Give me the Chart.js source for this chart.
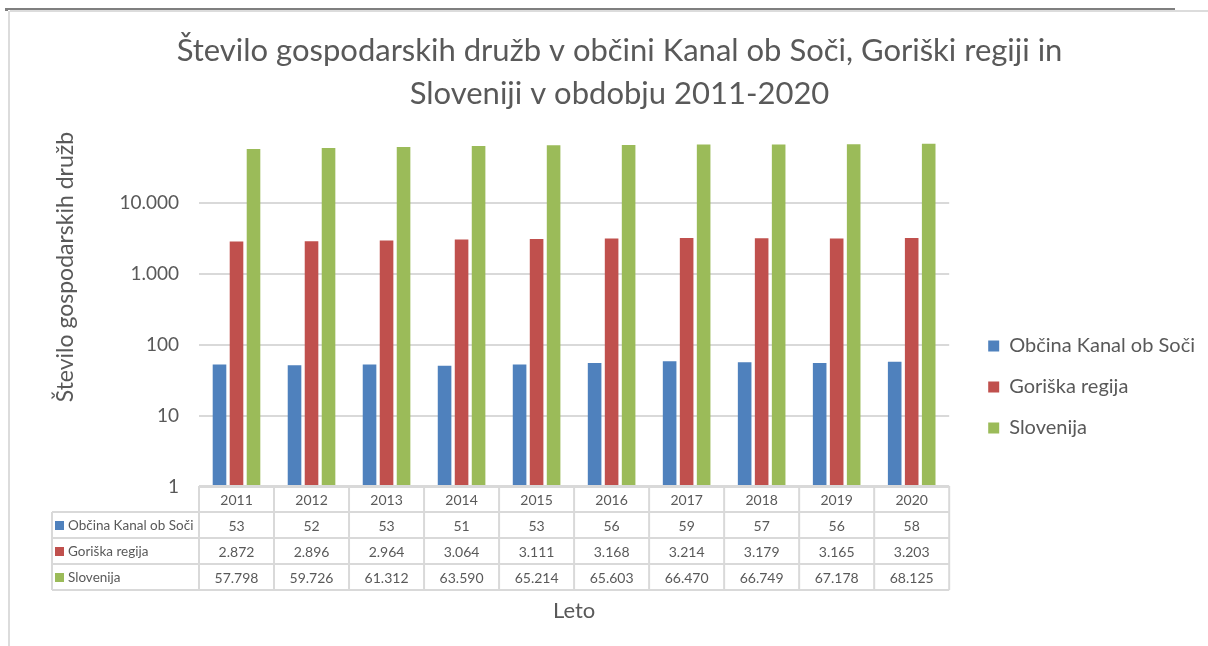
<!DOCTYPE html>
<html>
<head>
<meta charset="utf-8">
<script src="https://cdn.jsdelivr.net/npm/chart.js@4.4.0/dist/chart.umd.min.js"></script>
<style>
body { margin:0; background:#fff; }
#wrap { position:relative; width:1208px; height:646px; }
#c { position:absolute; left:0; top:0; }
.ln { position:absolute; }
</style>
</head>
<body>
<div id="wrap">
  <div class="ln" style="left:5px;top:8px;width:1170px;height:2px;background:#7f7f7f"></div>
  <div class="ln" style="left:5px;top:8px;width:3px;height:3px;background:#7f7f7f"></div>
  <div class="ln" style="left:10px;top:10px;width:1198px;height:2px;background:#dcdcdc"></div>
  <div class="ln" style="left:8px;top:11px;width:2px;height:635px;background:#dcdcdc"></div>
  <canvas id="c" width="1208" height="646"></canvas>
</div>
<script>
var years = ['2011','2012','2013','2014','2015','2016','2017','2018','2019','2020'];
var kanal = [53, 52, 53, 51, 53, 56, 59, 57, 56, 58];
var goriska = [2872, 2896, 2964, 3064, 3111, 3168, 3214, 3179, 3165, 3203];
var slovenija = [57798, 59726, 61312, 63590, 65214, 65603, 66470, 66749, 67178, 68125];
var yTicks = [1, 10, 100, 1000, 10000];

var seriesNames = ['Občina Kanal ob Soči', 'Goriška regija', 'Slovenija'];
var seriesColors = ['#4f81bd', '#c0504d', '#9bbb59'];

// 57798 -> "57.798"
function fmt(v){
    return String(v).replace(/\B(?=(\d{3})+(?!\d))/g, '.');
}

Chart.defaults.font.family = 'Lato';
Chart.defaults.color = '#595959';

// data table under the plot, columns follow the x scale
var tablePlugin = {
    id: 'dataTable',
    afterDraw: function(chart){
        var ctx = chart.ctx, xs = chart.scales.x, area = chart.chartArea;
        var n = years.length, colW = xs.width / n;
        var top = area.bottom - 1, rowH = 26, labelLeft = 52;
        var right = area.right;
        var sets = chart.data.datasets;

        ctx.save();
        ctx.strokeStyle = '#d9d9d9';
        ctx.lineWidth = 2;
        ctx.beginPath();
        ctx.moveTo(area.left, top); ctx.lineTo(right, top);
        for (var r = 1; r <= sets.length + 1; r++){
            ctx.moveTo(labelLeft, top + r * rowH);
            ctx.lineTo(right, top + r * rowH);
        }
        for (var i = 0; i <= n; i++){
            var bx = xs.getPixelForValue(0) - colW / 2 + i * colW;
            ctx.moveTo(bx, top);
            ctx.lineTo(bx, top + (sets.length + 1) * rowH);
        }
        ctx.moveTo(labelLeft, top + rowH);
        ctx.lineTo(labelLeft, top + (sets.length + 1) * rowH);
        ctx.stroke();

        ctx.font = '14px Lato';
        ctx.fillStyle = '#595959';
        ctx.textBaseline = 'middle';
        ctx.textAlign = 'center';
        for (var j = 0; j < n; j++){
            var cx = xs.getPixelForValue(j);
            ctx.fillText(years[j], cx, top + rowH / 2 + 1);
            for (var s = 0; s < sets.length; s++){
                ctx.fillText(fmt(sets[s].data[j]), cx, top + (s + 1.5) * rowH + 1);
            }
        }
        ctx.textAlign = 'left';
        ctx.font = '13.5px Lato';
        for (var k = 0; k < sets.length; k++){
            var cy = top + (k + 1.5) * rowH;
            ctx.fillStyle = sets[k].backgroundColor;
            ctx.fillRect(labelLeft + 3, cy - 4, 9, 9);
            ctx.fillStyle = '#595959';
            ctx.fillText(sets[k].label, labelLeft + 16, cy + 1);
        }
        ctx.restore();
    }
};

// move the legend a little away from the plot and down, like the original
var legendNudge = {
    id: 'legendNudge',
    afterLayout: function(chart){
        var lg = chart.legend;
        lg.left += 18; lg.right += 18;
        lg.top += 75; lg.bottom += 75;
    }
};

var ctx = document.getElementById('c');
var graph = new Chart(ctx, {
    type: 'bar',
    data: {
        labels: years,
        datasets: [
            { label: seriesNames[0], data: kanal, backgroundColor: seriesColors[0] },
            { label: seriesNames[1], data: goriska, backgroundColor: seriesColors[1] },
            { label: seriesNames[2], data: slovenija, backgroundColor: seriesColors[2] }
        ]
    },
    options: {
        responsive: false,
        animation: false,
        categoryPercentage: 0.68,
        barPercentage: 0.8,
        borderWidth: 0,
        layout: { padding: { left: 52, right: 21, top: 0, bottom: 22 } },
        scales: {
            x: {
                grid: { display: false },
                border: { display: false },
                ticks: { display: false },
                title: { display: true, text: 'Leto', font: { size: 22 }, padding: 0 },
                afterFit: function(s){ s.height = 137; }
            },
            y: {
                type: 'logarithmic',
                min: 1,
                max: 100000,
                grid: { color: '#d9d9d9', lineWidth: 2, drawTicks: false },
                border: { display: false },
                ticks: {
                    padding: 20,
                    font: { size: 19 },
                    callback: function(v){ return fmt(v); }
                },
                afterBuildTicks: function(s){
                    s.ticks = yTicks.map(function(v){ return { value: v }; });
                },
                title: {
                    display: true,
                    text: 'Število gospodarskih družb',
                    align: 'end',
                    font: { size: 23 },
                    padding: { top: 0, bottom: 0 }
                },
                afterFit: function(s){ s.width = 147; }
            }
        },
        plugins: {
            title: {
                display: true,
                text: ['Število gospodarskih družb v občini Kanal ob Soči, Goriški regiji in', 'Sloveniji v obdobju 2011-2020'],
                font: { size: 31, weight: 'normal', lineHeight: 1.387 },
                color: '#595959',
                padding: { top: 30, bottom: 16 }
            },
            legend: {
                position: 'right',
                labels: {
                    boxWidth: 11,
                    boxHeight: 11,
                    padding: 21,
                    color: '#595959',
                    font: { size: 20 }
                }
            },
            tooltip: { enabled: false }
        }
    },
    plugins: [tablePlugin, legendNudge]
});
</script>
</body>
</html>
